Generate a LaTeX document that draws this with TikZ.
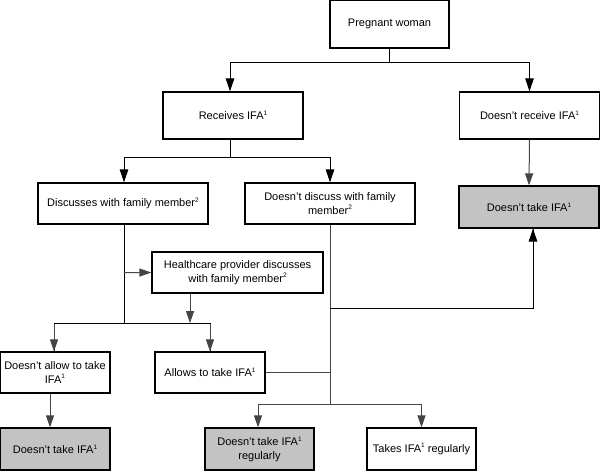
\documentclass[tikz,border=0pt]{standalone}
\usepackage{fontspec}
\setmainfont{Liberation Sans}
\usetikzlibrary{arrows.meta}
\definecolor{boxgray}{HTML}{C3C3C3}
\definecolor{linegray}{HTML}{454545}
\newcommand{\fnmark}[1]{\raisebox{0.75ex}{\fontsize{6.5}{7}\selectfont #1}}
\begin{document}
\begin{tikzpicture}[x=1pt,y=-1pt,
  box/.style={draw,line width=1.2pt,align=center,inner sep=2pt,font=\fontsize{11}{13.5}\selectfont},
  greybox/.style={box,fill=boxgray},
  link/.style={line width=1pt},
  glink/.style={line width=1pt,draw=linegray},
  arr/.style={link,-{Triangle[length=13pt,width=8.5pt]}},
  garr/.style={glink,-{Triangle[length=12pt,width=8pt,fill=linegray]}}]
\useasboundingbox (0,0) rectangle (600,471);
\node[box,minimum width=119pt,minimum height=48pt] (preg) at (389.5,24) {Pregnant woman};
\node[box,minimum width=140pt,minimum height=47pt] (recv) at (233,115.5) {Receives IFA\fnmark{1}};
\node[box,minimum width=140pt,minimum height=47pt] (norecv) at (529.5,115.5) {Doesn't receive IFA\fnmark{1}};
\node[box,minimum width=170pt,minimum height=41pt] (disc) at (123,203.5) {Discusses with family member\fnmark{2}};
\node[box,minimum width=170pt,minimum height=41pt] (nodisc) at (330,203.5) {Doesn’t discuss with family\\member\fnmark{2}};
\node[greybox,minimum width=140pt,minimum height=42pt] (notakeA) at (529,207) {Doesn’t take IFA\fnmark{1}};
\node[box,minimum width=171pt,minimum height=41pt] (hcp) at (237.5,272.5) {Healthcare provider discusses\\with family member\fnmark{2}};
\node[box,minimum width=110pt,minimum height=41pt] (noallow) at (55,372.5) {Doesn’t allow to take\\IFA\fnmark{1}};
\node[box,minimum width=110pt,minimum height=41pt] (allow) at (210,372.5) {Allows to take IFA\fnmark{1}};
\node[greybox,minimum width=110pt,minimum height=42pt] (notakeB) at (55,449) {Doesn’t take IFA\fnmark{1}};
\node[greybox,minimum width=109pt,minimum height=42pt] (notakereg) at (259.5,449) {Doesn’t take IFA\fnmark{1}\\regularly};
\node[box,minimum width=109pt,minimum height=42pt] (takereg) at (421.5,449) {Takes IFA\fnmark{1} regularly};
\draw[link] (preg.south) -- ++(0,14) coordinate (split1);
\draw[arr] (split1) -| ([xshift=-3pt]recv.north);
\draw[arr] (split1) -| (norecv.north);
\draw[link] ([xshift=-3pt]recv.south) -- ++(0,18) coordinate (split2);
\draw[arr] (split2) -| ([xshift=1pt]disc.north);
\draw[arr] (split2) -| (nodisc.north);
\draw[garr] (norecv.south) -- (notakeA.north);
\draw[link] ([xshift=1pt]disc.south) -- ++(0,99) coordinate (split3);
\draw[garr] ([xshift=1pt]disc.south) ++(0,48) -- (hcp.west);
\draw[garr] ([xshift=-47.5pt]hcp.south) -- ++(0,29.5);
\draw[link] (split3) -| ([xshift=-1pt]noallow.north);
\draw[garr] ([xshift=-1pt,yshift=-0.5pt]noallow.north |- split3) -- ([xshift=-1pt]noallow.north);
\draw[link] (split3) -| (allow.north);
\draw[garr] ([yshift=-0.5pt]allow.north |- split3) -- (allow.north);
\draw[garr] ([xshift=-5pt]noallow.south) -- ([xshift=-5pt]notakeB.north);
\draw[glink] (nodisc.south) -- ++(0,180) coordinate (split4);
\draw[link] (nodisc.south) ++(0,84) -| coordinate[pos=0] (joinA) ([xshift=4pt]notakeA.south);
\draw[arr] ([xshift=4pt]notakeA.south) ++(0,80) -- ([xshift=4pt]notakeA.south);
\draw[glink] (allow.east) -- (allow.east -| split4);
\draw[garr] (split4) -| ([xshift=-1.5pt]notakereg.north);
\draw[garr] (split4) -| (takereg.north);
\end{tikzpicture}
\end{document}
